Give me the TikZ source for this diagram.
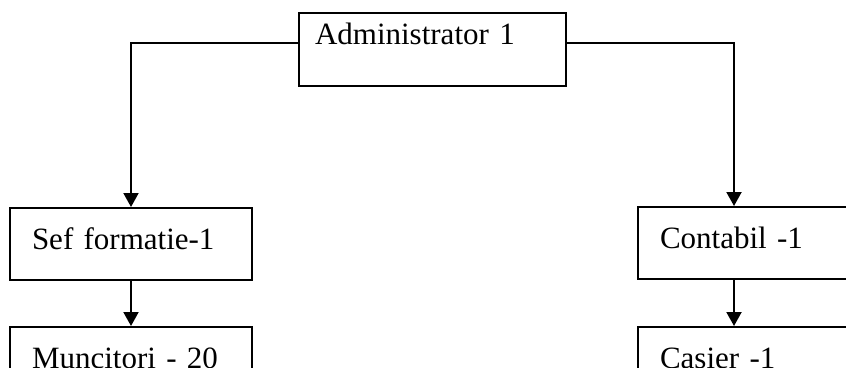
\documentclass[tikz,border=0pt]{standalone}
\usepackage{fontspec}
\setmainfont{Liberation Serif}
\usetikzlibrary{arrows.meta,positioning}

\begin{document}
\begin{tikzpicture}[
  x=1pt, y=-1pt,
  blk/.style={
    draw, line width=2pt, anchor=north west,
    inner xsep=22pt, inner ysep=0pt, text width=198pt,
    text height=41pt, text depth=31pt,
    align=left, font=\fontsize{31}{36}\selectfont
  },
  topblk/.style={
    blk, inner xsep=16pt, text width=235pt,
    text height=31pt, text depth=42pt
  },
  arr/.style={-{Triangle[length=14pt,width=15pt]}, line width=2pt}
]
  \useasboundingbox (0,0) rectangle (846,367);
  \clip (0,0) rectangle (846,367);

  % Top: administrator
  \node[topblk] (adm) at (298, 12)  {Administrator 1};

  % Left branch
  \node[blk]    (sef) at (9,   207) {Sef formatie-1};
  \node[blk]    (mun) at (9,   326) {Muncitori - 20};

  % Right branch (runs past the right edge)
  \node[blk]    (con) at (637, 206) {Contabil -1};
  \node[blk]    (cas) at (637, 326) {Casier -1};

  \draw[arr] ([yshift=6.5pt]adm.west) -| (sef.north);
  \draw[arr] ([yshift=6.5pt]adm.east) -| ([xshift=97pt]con.north west);
  \draw[arr] (sef.south) -- (mun.north);
  \draw[arr] ([xshift=97pt]con.south west) -- ([xshift=97pt]cas.north west);
\end{tikzpicture}
\end{document}
